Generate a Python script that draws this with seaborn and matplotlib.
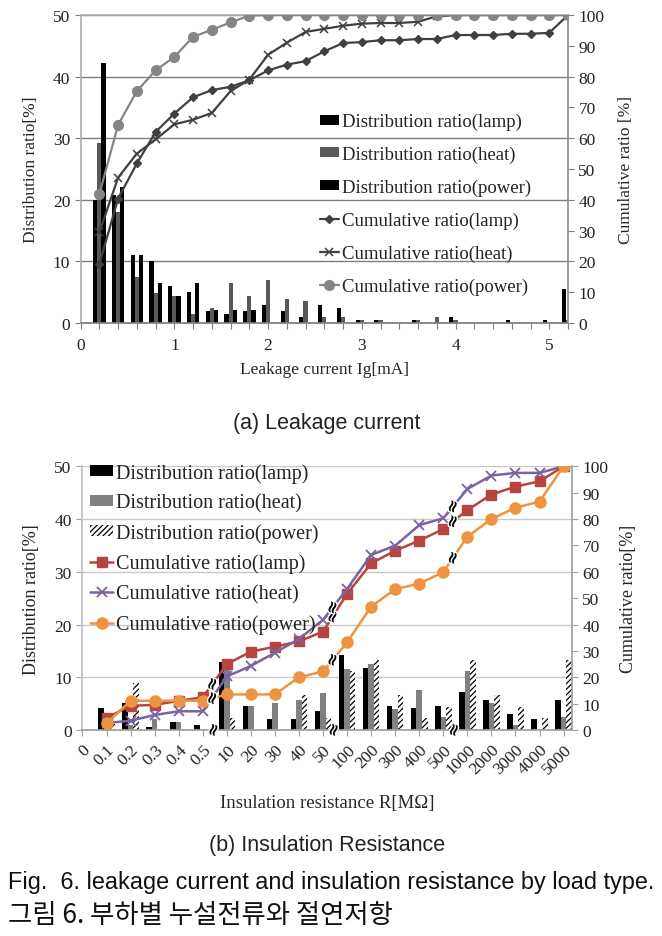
import numpy as np
import pandas as pd
import matplotlib
matplotlib.use('Agg')
import matplotlib.pyplot as plt
import seaborn as sns
from matplotlib.patches import Patch
from matplotlib.lines import Line2D
import matplotlib.patheffects as pe

# ---------------- data: (a) leakage current ----------------
leak_x = [0.2, 0.4, 0.6, 0.8, 1.0, 1.2, 1.4, 1.6, 1.8, 2.0, 2.2, 2.4, 2.6,
          2.8, 3.0, 3.2, 3.4, 3.6, 3.8, 4.0, 4.2, 4.4, 4.6, 4.8, 5.0, 5.2]
lamp_dist_a = [20.0, 20.8, 11.0, 10.1, 6.0, 5.1, 2.0, 1.5, 2.0, 3.0, 2.0, 1.0, 3.0,
               2.5, 0.5, 0.5, 0.0, 0.5, 0.0, 1.0, 0.0, 0.0, 0.5, 0.0, 0.5, 5.6]
heat_dist_a = [29.2, 18.0, 7.5, 4.9, 4.4, 1.5, 2.4, 6.5, 4.4, 7.0, 3.9, 3.5, 1.0,
               1.0, 0.5, 0.5, 0.0, 0.5, 1.0, 0.5, 0.0, 0.0, 0.0, 0.0, 0.0, 0.5]
power_dist_a = [42.2, 22.0, 11.0, 6.5, 4.4, 6.5, 2.1, 2.1, 2.1, 0.0, 0.0, 0.0, 0.0,
                0.0, 0.0, 0.0, 0.0, 0.0, 0.0, 0.0, 0.0, 0.0, 0.0, 0.0, 0.0, 0.0]
lamp_cum_a = [19.1, 40.4, 51.8, 62.0, 68.0, 73.3, 75.6, 76.7, 78.8, 82.0, 83.9, 85.0, 88.2,
              90.9, 91.2, 91.8, 91.8, 92.2, 92.2, 93.5, 93.5, 93.5, 93.9, 93.9, 94.2, 100.0]
heat_cum_a = [29.4, 47.2, 55.0, 59.6, 64.5, 66.0, 68.2, 75.3, 79.0, 87.1, 91.0, 94.5, 95.5,
              96.5, 97.2, 97.4, 97.4, 97.8, 99.6, 100.0, 100.0, 100.0, 100.0, 100.0, 100.0, 100.0]
power_cum_a = [41.8, 64.3, 75.3, 82.0, 86.4, 92.9, 95.2, 97.6, 99.8, 100.0, 100.0, 100.0, 100.0,
               100.0, 100.0, 100.0, 100.0, 100.0, 100.0, 100.0, 100.0, 100.0, 100.0, 100.0, 100.0, 100.0]
leak_ticks = [0, 1, 2, 3, 4, 5]

# ---------------- data: (b) insulation resistance ----------------
res_labels = ['0', '0.1', '0.2', '0.3', '0.4', '0.5', '10', '20', '30', '40', '50',
              '100', '200', '300', '400', '500', '1000', '2000', '3000', '4000', '5000']
lamp_dist_b = [0.0, 4.2, 5.1, 0.6, 1.6, 1.0, 12.8, 4.6, 2.1, 2.1, 3.6,
               14.3, 11.8, 4.6, 4.1, 4.6, 7.2, 5.7, 3.0, 2.0, 5.7]
heat_dist_b = [0.0, 1.0, 1.0, 2.0, 1.6, 0.0, 11.9, 4.6, 5.1, 5.6, 7.0,
               11.6, 12.5, 4.0, 7.6, 2.5, 11.1, 5.1, 0.9, 0.0, 2.5]
power_dist_b = [0.0, 1.1, 8.9, 0.0, 0.0, 0.0, 2.2, 0.0, 0.0, 6.6, 2.3,
                11.1, 13.3, 6.6, 2.2, 4.3, 13.3, 6.6, 4.3, 2.2, 13.3]
# cumulative values start at category '0.1'
lamp_cum_b = [4.6, 9.2, 9.5, 11.1, 12.4, 25.0, 29.7, 31.6, 33.6, 37.3,
              51.6, 63.2, 68.0, 71.8, 76.2, 83.4, 89.3, 92.3, 94.3, 100.0]
heat_cum_b = [2.7, 3.5, 5.7, 7.1, 7.1, 20.3, 24.3, 29.3, 34.5, 41.8,
              53.5, 66.4, 69.9, 77.7, 80.3, 91.4, 96.5, 97.5, 97.5, 100.0]
power_cum_b = [2.5, 11.1, 11.1, 11.1, 11.1, 13.5, 13.5, 13.5, 20.0, 22.2,
               33.2, 46.8, 53.4, 55.5, 59.9, 73.3, 80.0, 84.3, 86.6, 100.0]
break_after = ['0.5', '50', '500']

series = ['lamp', 'heat', 'power']

sns.set_theme(style='white')
plt.rcParams['font.family'] = ['Liberation Serif', 'DejaVu Serif']
plt.rcParams['hatch.linewidth'] = 0.9
plt.rcParams['axes.unicode_minus'] = False

fig = plt.figure(figsize=(6.62, 9.37), dpi=100)
W, H = 662.0, 937.0

def fx(px):
    return px / W

def fy(py):
    return 1 - py / H

TICKFS = 12.5
CAPFAM = ['Liberation Sans', 'DejaVu Sans']

# =============== (a) top chart ===============
L, R, T, B = 80.6, 568.0, 16.0, 324.0
ax1 = fig.add_axes([fx(L), fy(B), (R - L) / W, (B - T) / H])
dfa = pd.DataFrame({
    'x': leak_x * 3,
    'v': lamp_dist_a + heat_dist_a + power_dist_a,
    's': [s for s in series for _ in leak_x],
})
sns.barplot(data=dfa, x='x', y='v', hue='s', hue_order=series, native_scale=True,
            palette=['#000000', '#595959', '#000000'], width=0.66, saturation=1,
            linewidth=0, legend=False, ax=ax1)
ax1.set_xlim(0, 5.2)
ax1.set_ylim(0, 50)
ax1.set_yticks(range(0, 51, 10))
ax1.set_xticks(leak_ticks)
ax1.set_xticklabels([str(t) for t in leak_ticks])
ax1.set_xticks(leak_x, minor=True)
ax1.set_axisbelow(True)
ax1.yaxis.grid(True, color='#7f7f7f', lw=1.0)
ax1.xaxis.grid(False)
ax1.set_xlabel('Leakage current Ig[mA]', fontsize=12.5, labelpad=6)
ax1.set_ylabel('Distribution ratio[%]', fontsize=12.5, labelpad=10)
ax1.tick_params(axis='both', which='both', direction='out', length=4, width=0.8,
                colors='#7f7f7f', labelcolor='#222222', labelsize=TICKFS,
                bottom=True, left=True)
ax1.tick_params(axis='x', which='minor', length=4)
ax1.tick_params(axis='x', which='major', pad=6)
for sp in ['left', 'top']:
    ax1.spines[sp].set_color('#b0b0b0')
ax1.spines['bottom'].set_color('#7f7f7f')
ax1.spines['right'].set_visible(False)

ax1b = ax1.twinx()
line_a = [
    (lamp_cum_a, '#404040', 'D', 4.5, 1.0),
    (heat_cum_a, '#404040', 'x', 6.0, 1.1),
    (power_cum_a, '#858585', 'o', 7.0, 1.0),
]
for vals, col, mk, ms, mew in line_a:
    sns.lineplot(x=leak_x, y=vals, color=col, lw=1.6, marker=mk, markersize=ms,
                 markerfacecolor=col, markeredgecolor=col, markeredgewidth=mew,
                 ax=ax1b, legend=False)
ax1b.set_ylim(0, 100)
ax1b.set_yticks(range(0, 101, 10))
ax1b.set_ylabel('Cumulative ratio [%]', fontsize=12.5, labelpad=10)
ax1b.tick_params(axis='y', direction='out', length=4, width=0.8, colors='#7f7f7f',
                 labelcolor='#222222', labelsize=TICKFS, right=True)
ax1b.spines['right'].set_color('#909090')
for sp in ['left', 'top', 'bottom']:
    ax1b.spines[sp].set_visible(False)

handles_a = [
    Patch(facecolor='#000000', edgecolor='none'),
    Patch(facecolor='#595959', edgecolor='none'),
    Patch(facecolor='#000000', edgecolor='none'),
    Line2D([], [], color='#404040', marker='D', ms=4.5, lw=1.6),
    Line2D([], [], color='#404040', marker='x', ms=6, mew=1.1, lw=1.6),
    Line2D([], [], color='#858585', marker='o', ms=7, lw=1.6),
]
labels_a = ['Distribution ratio(' + s + ')' for s in series] + \
           ['Cumulative ratio(' + s + ')' for s in series]
leg = ax1b.legend(handles_a, labels_a, loc='upper left',
                  bbox_to_anchor=(fx(320), fy(114)), bbox_transform=fig.transFigure,
                  frameon=False, fontsize=13.5, labelspacing=0.83,
                  handlelength=1.0, handleheight=0.45, handletextpad=0.15,
                  borderpad=0, borderaxespad=0)
for t in leg.get_texts():
    t.set_color('#222222')

fig.text(fx(327), fy(424), '(a) Leakage current', ha='center', va='center',
         fontsize=15.5, family=CAPFAM, color='#222222')

# =============== (b) bottom chart ===============
L2, R2, T2, B2 = 82.0, 572.0, 467.3, 731.0
ax2 = fig.add_axes([fx(L2), fy(B2), (R2 - L2) / W, (B2 - T2) / H])
dfb = pd.DataFrame({
    'x': res_labels * 3,
    'v': lamp_dist_b + heat_dist_b + power_dist_b,
    's': [s for s in series for _ in res_labels],
})
sns.barplot(data=dfb, x='x', y='v', hue='s', hue_order=series, order=res_labels,
            palette=['#000000', '#808080', '#ffffff'], width=0.69, saturation=1,
            linewidth=0, legend=False, ax=ax2)
for p in ax2.containers[2]:
    p.set_facecolor('white')
    p.set_edgecolor('black')
    p.set_hatch('//////')
    p.set_linewidth(0)
ax2.set_xlim(-0.02, 20.35)
ax2.set_ylim(0, 50)
ax2.set_yticks(range(0, 51, 10))
ax2.set_xticks(range(len(res_labels)))
ax2.set_xticklabels(res_labels, rotation=45, ha='right', va='top', rotation_mode='anchor')
ax2.set_axisbelow(True)
ax2.yaxis.grid(True, color='#c8c8c8', lw=1.0)
ax2.xaxis.grid(False)
ax2.set_xlabel('Insulation resistance R[MΩ]', fontsize=13.5, labelpad=12)
ax2.set_ylabel('Distribution ratio[%]', fontsize=13, labelpad=10)
ax2.tick_params(axis='both', direction='out', length=4, width=0.8, colors='#a0a0a0',
                labelcolor='#222222', labelsize=TICKFS, bottom=True, left=True)
ax2.tick_params(axis='x', pad=4)
for sp in ['left', 'top']:
    ax2.spines[sp].set_color('#c0c0c0')
ax2.spines['top'].set_visible(False)
ax2.spines['bottom'].set_color('#a0a0a0')
ax2.spines['right'].set_visible(False)

ax2b = ax2.twinx()
cum_x = list(range(1, len(res_labels)))
line_b = [
    (lamp_cum_b, '#B5463F', 's', 7.0, 1.0),
    (heat_cum_b, '#7B62A0', 'x', 7.0, 1.3),
    (power_cum_b, '#EE9440', 'o', 8.0, 1.0),
]
for vals, col, mk, ms, mew in line_b:
    sns.lineplot(x=cum_x, y=vals, color=col, lw=1.8, marker=mk, markersize=ms,
                 markerfacecolor=col, markeredgecolor=col, markeredgewidth=mew,
                 ax=ax2b, legend=False)
ax2b.set_ylim(0, 100)
ax2b.set_yticks(range(0, 101, 10))
ax2b.set_ylabel('Cumulative ratio[%]', fontsize=13, labelpad=8)
ax2b.tick_params(axis='y', direction='out', length=4, width=0.8, colors='#a0a0a0',
                 labelcolor='#222222', labelsize=TICKFS, right=True)
ax2b.spines['right'].set_color('#a0a0a0')
for sp in ['left', 'top', 'bottom']:
    ax2b.spines[sp].set_visible(False)

# axis-break marks
brk_kw = dict(ha='center', va='center', rotation=72, fontsize=12, fontweight='bold',
              color='black', family='DejaVu Sans', clip_on=False, zorder=10,
              path_effects=[pe.withStroke(linewidth=2, foreground='white')])
for k, lab in enumerate(break_after):
    i = res_labels.index(lab)
    j = cum_x.index(i)
    curves = [lamp_cum_b, heat_cum_b, power_cum_b] if k > 0 else [lamp_cum_b, power_cum_b]
    for vals in curves:
        y = vals[j] + 0.4 * (vals[j + 1] - vals[j])
        ax2b.text(i + 0.4, y, '≈', **brk_kw)
    ax2.text(i + 0.45, 0, '≈', **brk_kw)

handles_b = [
    Patch(facecolor='#000000', edgecolor='none'),
    Patch(facecolor='#808080', edgecolor='none'),
    Patch(facecolor='white', edgecolor='black', hatch='//////', lw=0),
    Line2D([], [], color='#B5463F', marker='s', ms=7, lw=1.8),
    Line2D([], [], color='#7B62A0', marker='x', ms=7, mew=1.3, lw=1.8),
    Line2D([], [], color='#EE9440', marker='o', ms=8, lw=1.8),
]
leg2 = ax2b.legend(handles_b, labels_a, loc='upper left',
                   bbox_to_anchor=(fx(90), fy(464)), bbox_transform=fig.transFigure,
                   frameon=False, fontsize=14.5, labelspacing=0.53,
                   handlelength=1.15, handleheight=0.45, handletextpad=0.12,
                   borderpad=0, borderaxespad=0)
for t in leg2.get_texts():
    t.set_color('#222222')

fig.text(fx(327), fy(846), '(b) Insulation Resistance', ha='center', va='center',
         fontsize=15.5, family=CAPFAM, color='#222222')
fig.text(fx(8), fy(883), 'Fig.  6. leakage current and insulation resistance by load type.',
         ha='left', va='center', fontsize=16.9, family=CAPFAM, color='#111111')
fig.text(fx(8), fy(916), '그림 6. 부하별 누설전류와 절연저항', ha='left', va='center',
         fontsize=19, family=['Noto Sans CJK KR', 'DejaVu Sans'], color='#111111')

fig.savefig('out.png', dpi=100)
